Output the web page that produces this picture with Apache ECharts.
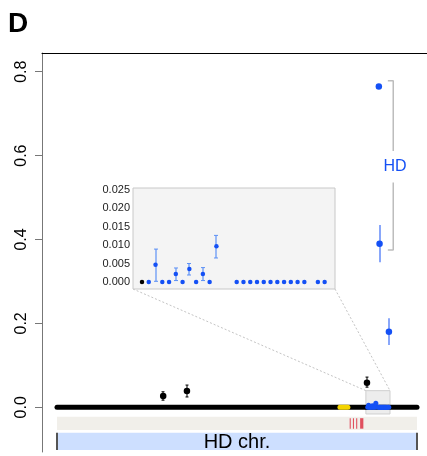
<!DOCTYPE html>
<html>
<head>
<meta charset="utf-8">
<script src="https://cdn.jsdelivr.net/npm/echarts@6/dist/echarts.min.js"></script>
<style>
  html, body { margin: 0; padding: 0; background: #fff; }
  #chart { width: 427px; height: 456px; }
</style>
</head>
<body>
<div id="chart"></div>
<script>
// ---- data ----
var panelLetter = 'D';
var chrLabel = 'HD chr.';
var hdLabel = 'HD';

// chromosome (arbitrary position units)
var chrRange = [0, 100];
var yellowSeg = [78.6, 80.8];
var redMarks = [[81.3, 81.6], [82.2, 82.5], [83.1, 83.4], [84.2, 85.1]];
var zoomBox = [85.8, 92.5];        // small grey box = inset window
var zoomBoxY = [-0.016, 0.0396];

// black (non HD) points
var blackPos = [29.5, 36.1, 86.1];
var blackVal = [0.027, 0.039, 0.0586];
var blackLow = [0.017, 0.0246, 0.048];
var blackHigh = [0.037, 0.053, 0.072];

// HD points
var hdPos = [89.4, 89.6, 92.2];
var hdVal = [0.765, 0.390, 0.180];
var hdLow = [null, 0.3457, 0.1485];
var hdHigh = [null, 0.4346, 0.212];

// HD bracket
var bracketX = [91.9, 93.4];
var bracketY = [0.7785, 0.611, 0.536, 0.375];
var hdLabelPos = [93.9, 0.5735];

// inset values
var insetIdx = [0, 1, 2, 3, 4, 5, 6, 7, 8, 9, 10, 11, 14, 15, 16, 17, 18, 19, 20, 21, 22, 23, 24, 26, 27];
var insetVal = [0, 0, 0.0047, 0, 0, 0.0022, 0, 0.0035, 0, 0.0022, 0, 0.0097, 0, 0, 0, 0, 0, 0, 0, 0, 0, 0, 0, 0, 0];
var insetLow = [null, null, 0.0002, null, null, 0.0004, null, 0.0019, null, 0.0004, null, 0.0065, null, null, null, null, null, null, null, null, null, null, null, null, null];
var insetHigh = [null, null, 0.0089, null, null, 0.0038, null, 0.0050, null, 0.0039, null, 0.0126, null, null, null, null, null, null, null, null, null, null, null, null, null];
var insetBlack = [0];   // indices drawn in black

var mainTicks = [0, 0.2, 0.4, 0.6, 0.8];
var insetTicks = [0, 0.005, 0.010, 0.015, 0.020, 0.025];

// ---- layout ----
var font = 'Liberation Sans, Arial, Helvetica, sans-serif';
var blue = '#1450f5';
var insetGrid = { left: 133, top: 188, width: 202, height: 101 };
var insetX = [-1.33, 28.53];

// map inset index into the main chart's zoom box
function insetToMain(i) {
  return zoomBox[0] + (i - insetX[0]) / (insetX[1] - insetX[0]) * (zoomBox[1] - zoomBox[0]);
}

var chart = echarts.init(document.getElementById('chart'));

function rectItem(fill, stroke) {
  return function (params, api) {
    var p0 = api.coord([api.value(0), api.value(3)]);
    var p1 = api.coord([api.value(1), api.value(2)]);
    return {
      type: 'rect',
      shape: { x: p0[0], y: p0[1], width: p1[0] - p0[0], height: p1[1] - p0[1] },
      style: { fill: fill, stroke: stroke || null, lineWidth: stroke ? 1 : 0 }
    };
  };
}

// error bar drawn as thin filled rects (vertical + optional caps)
function errItem(color, capW, lw) {
  return function (params, api) {
    var x = api.value(0);
    var a = api.coord([x, api.value(1)]);
    var b = api.coord([x, api.value(2)]);
    var cx = Math.round(a[0]);
    var ch = [{ type: 'rect', shape: { x: cx - lw / 2, y: b[1], width: lw, height: a[1] - b[1] }, style: { fill: color } }];
    if (capW) {
      ch.push({ type: 'rect', shape: { x: cx - capW, y: a[1] - 0.5, width: capW * 2, height: 1 }, style: { fill: color } });
      ch.push({ type: 'rect', shape: { x: cx - capW, y: b[1] - 0.5, width: capW * 2, height: 1 }, style: { fill: color } });
    }
    return { type: 'group', children: ch };
  };
}

function errData(pos, low, high) {
  var out = [];
  for (var i = 0; i < pos.length; i++) {
    if (low[i] != null) out.push([pos[i], low[i], high[i]]);
  }
  return out;
}

var blackPts = blackPos.map(function (p, i) { return [p, blackVal[i]]; });
var hdPts = hdPos.map(function (p, i) { return [p, hdVal[i]]; });
var insetPts = insetIdx.map(function (p, i) {
  return { value: [p, insetVal[i]], itemStyle: { color: insetBlack.indexOf(p) >= 0 ? '#000' : blue } };
});
var insetOnMain = insetIdx.map(function (p, i) {
  return { value: [insetToMain(p), insetVal[i]], itemStyle: { color: insetBlack.indexOf(p) >= 0 ? '#000' : blue } };
});

var option = {
  animation: false,
  backgroundColor: '#fff',
  textStyle: { fontFamily: font },
  grid: [
    { left: 42, top: 53, right: 0, bottom: 4 },
    { left: insetGrid.left, top: insetGrid.top, width: insetGrid.width, height: insetGrid.height,
      show: true, backgroundColor: '#f4f4f4', borderColor: '#c8c8c8', borderWidth: 1, z: 5 }
  ],
  xAxis: [
    { type: 'value', gridIndex: 0, position: 'top', min: -15 / 3.6, max: 370 / 3.6,
      axisLine: { show: true, onZero: false, lineStyle: { color: '#000', width: 1 } },
      axisTick: { show: false }, axisLabel: { show: false }, splitLine: { show: false } },
    { type: 'value', gridIndex: 1, min: insetX[0], max: insetX[1], show: false }
  ],
  yAxis: [
    { type: 'value', gridIndex: 0, min: -0.1066, max: 0.8446,
      axisLine: { show: true, onZero: false, lineStyle: { color: '#777', width: 1 } },
      axisTick: { show: true, length: 7, customValues: mainTicks, lineStyle: { color: '#777' } },
      axisLabel: { customValues: mainTicks, rotate: 90, margin: 12, fontSize: 16, color: '#000',
        fontFamily: font, formatter: function (v) { return v.toFixed(1); } },
      splitLine: { show: false } },
    { type: 'value', gridIndex: 1, min: -0.00188, max: 0.0254,
      axisLine: { show: false }, axisTick: { show: false },
      axisLabel: { customValues: insetTicks, margin: 3, fontSize: 11, color: '#222', fontFamily: font,
        formatter: function (v) { return v.toFixed(3); } },
      splitLine: { show: false } }
  ],
  series: [
    // tracks under the chromosome
    { type: 'custom', renderItem: rectItem('#f1efea'), data: [[chrRange[0], chrRange[1], -0.054, -0.0224]], z: 1 },
    { type: 'custom', data: [[chrRange[0], chrRange[1], -0.1018, -0.0605]], z: 1,
      renderItem: function (params, api) {
        var p0 = api.coord([api.value(0), api.value(3)]);
        var p1 = api.coord([api.value(1), api.value(2)]);
        return { type: 'group', children: [
          { type: 'rect', shape: { x: p0[0], y: p0[1], width: p1[0] - p0[0], height: p1[1] - p0[1] }, style: { fill: '#cddfff' } },
          { type: 'line', shape: { x1: p0[0], y1: p0[1], x2: p0[0], y2: p1[1] }, style: { stroke: '#555', lineWidth: 2 } },
          { type: 'line', shape: { x1: p1[0], y1: p0[1], x2: p1[0], y2: p1[1] }, style: { stroke: '#555', lineWidth: 2 } },
          { type: 'text', x: (p0[0] + p1[0]) / 2, y: (p0[1] + p1[1]) / 2 + 1,
            style: { text: chrLabel, fill: '#000', font: '20px ' + font, align: 'center', verticalAlign: 'middle' } }
        ] };
      } },
    { type: 'custom', renderItem: rectItem('#e0505e'),
      data: redMarks.map(function (r) { return [r[0], r[1], -0.051, -0.026]; }), z: 2 },
    // zoom window box
    { type: 'custom', renderItem: rectItem('#ededed', '#cfcfcf'), data: [[zoomBox[0], zoomBox[1], zoomBoxY[0], zoomBoxY[1]]], z: 1 },
    // chromosome line
    { type: 'line', data: [[chrRange[0], 0], [chrRange[1], 0]], symbol: 'none', z: 3,
      lineStyle: { color: '#000', width: 5, cap: 'round' } },
    { type: 'line', data: [[yellowSeg[0], 0], [yellowSeg[1], 0]], symbol: 'none', z: 4,
      lineStyle: { color: '#f4d400', width: 5, cap: 'round' } },
    { type: 'scatter', data: insetOnMain, symbolSize: 5, itemStyle: { opacity: 1 }, z: 5 },
    // black points
    { type: 'custom', renderItem: errItem('#000', 1.5, 1), data: errData(blackPos, blackLow, blackHigh), z: 5 },
    { type: 'scatter', data: blackPts, symbolSize: 6.5, itemStyle: { color: '#000', opacity: 1 }, z: 6 },
    // HD points
    { type: 'custom', renderItem: errItem(blue, 0, 1), itemStyle: { color: blue },
      data: errData(hdPos, hdLow, hdHigh), z: 5 },
    { type: 'scatter', data: hdPts, symbolSize: 6.5, itemStyle: { color: blue, opacity: 1 }, z: 6 },
    // HD bracket
    { type: 'line', data: [[bracketX[0], bracketY[0]], [bracketX[1], bracketY[0]], [bracketX[1], bracketY[1]]],
      symbol: 'none', lineStyle: { color: '#bdbdbd', width: 1.5 }, z: 4 },
    { type: 'line', data: [[bracketX[1], bracketY[2]], [bracketX[1], bracketY[3]], [bracketX[0], bracketY[3]]],
      symbol: 'none', lineStyle: { color: '#bdbdbd', width: 1.5 }, z: 4 },
    { type: 'custom', data: [hdLabelPos], z: 6,
      renderItem: function (params, api) {
        var p = api.coord([api.value(0), api.value(1)]);
        return { type: 'text', x: p[0], y: p[1],
          style: { text: hdLabel, fill: blue, font: '16px ' + font, align: 'center', verticalAlign: 'middle' } };
      } },
    // inset
    { type: 'custom', xAxisIndex: 1, yAxisIndex: 1, renderItem: errItem('#5c90f5', 2, 1.2),
      data: errData(insetIdx, insetLow, insetHigh), z: 10 },
    { type: 'scatter', xAxisIndex: 1, yAxisIndex: 1, data: insetPts, symbolSize: 4.5, itemStyle: { opacity: 1 }, z: 11 }
  ]
};

chart.setOption(option);

// connector lines from inset corners to the zoom box, title letter
var bl = chart.convertToPixel({ gridIndex: 0 }, [zoomBox[0], zoomBoxY[1]]);
var br = chart.convertToPixel({ gridIndex: 0 }, [zoomBox[1], zoomBoxY[1]]);
var ib = insetGrid.top + insetGrid.height;
chart.setOption({
  graphic: [
    { type: 'line', shape: { x1: insetGrid.left, y1: ib, x2: bl[0], y2: bl[1] },
      style: { stroke: '#c4c4c4', lineWidth: 1, lineDash: [2, 2] }, z: 2 },
    { type: 'line', shape: { x1: insetGrid.left + insetGrid.width, y1: ib, x2: br[0], y2: br[1] },
      style: { stroke: '#c4c4c4', lineWidth: 1, lineDash: [2, 2] }, z: 2 },
    { type: 'text', left: 8, top: 10,
      style: { text: panelLetter, font: 'bold 28px ' + font, fill: '#000' } }
  ]
});
</script>
</body>
</html>
